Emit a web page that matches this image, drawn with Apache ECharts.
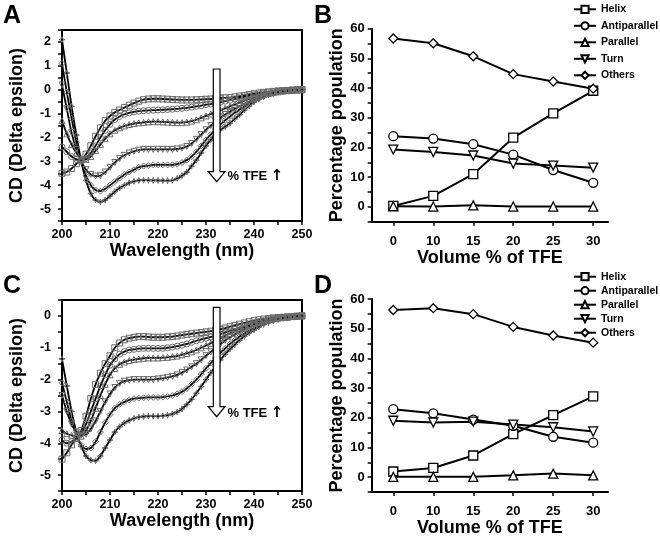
<!DOCTYPE html>
<html>
<head>
<meta charset="utf-8">
<script src="https://cdn.jsdelivr.net/npm/echarts@6/dist/echarts.min.js"></script>
<style>html,body{margin:0;padding:0;background:#fff}#c{width:660px;height:539px}</style>
</head>
<body>
<div id="c"></div>
<script>
// ---------- DATA ----------
const wavelengths = [200,201,202,203,204,205,206,207,208,209,210,211,212,213,214,215,216,217,218,219,220,221,222,223,224,225,226,227,228,229,230,231,232,233,234,235,236,237,238,239,240,241,242,243,244,245,246,247,248,249,250];

// Panel A spectra (0,10,15,20,25,30 % TFE)
const cdA_tfe0  = [-3.5,-3.45,-3.3,-3.1,-2.95,-2.7,-2.35,-1.95,-1.6,-1.3,-1.1,-0.95,-0.85,-0.75,-0.65,-0.56,-0.48,-0.42,-0.39,-0.38,-0.38,-0.39,-0.4,-0.41,-0.42,-0.43,-0.43,-0.43,-0.42,-0.41,-0.4,-0.39,-0.37,-0.35,-0.34,-0.33,-0.3,-0.27,-0.24,-0.2,-0.17,-0.14,-0.11,-0.09,-0.07,-0.05,-0.04,-0.03,-0.02,-0.01,0];
const cdA_tfe10 = [-2.4,-2.6,-2.8,-2.92,-2.97,-2.88,-2.65,-2.35,-2.0,-1.7,-1.45,-1.25,-1.12,-1.03,-0.97,-0.93,-0.9,-0.88,-0.87,-0.86,-0.85,-0.84,-0.83,-0.82,-0.8,-0.78,-0.76,-0.73,-0.7,-0.67,-0.63,-0.6,-0.56,-0.52,-0.48,-0.44,-0.39,-0.34,-0.3,-0.26,-0.22,-0.18,-0.15,-0.12,-0.09,-0.07,-0.05,-0.04,-0.02,-0.01,0];
const cdA_tfe15 = [-1.3,-1.85,-2.3,-2.65,-2.88,-2.92,-2.8,-2.55,-2.3,-2.05,-1.85,-1.7,-1.6,-1.52,-1.46,-1.42,-1.39,-1.37,-1.35,-1.34,-1.34,-1.35,-1.36,-1.37,-1.38,-1.38,-1.36,-1.32,-1.26,-1.18,-1.1,-1.02,-0.94,-0.86,-0.78,-0.7,-0.62,-0.54,-0.46,-0.39,-0.32,-0.26,-0.21,-0.16,-0.12,-0.09,-0.06,-0.04,-0.03,-0.01,0];
const cdA_tfe20 = [0.2,-0.8,-1.8,-2.5,-3.0,-3.35,-3.55,-3.62,-3.6,-3.45,-3.25,-3.05,-2.88,-2.75,-2.65,-2.58,-2.53,-2.5,-2.5,-2.5,-2.5,-2.5,-2.5,-2.5,-2.48,-2.45,-2.38,-2.25,-2.08,-1.88,-1.68,-1.5,-1.33,-1.18,-1.04,-0.92,-0.8,-0.69,-0.59,-0.5,-0.41,-0.33,-0.26,-0.2,-0.15,-0.1,-0.07,-0.04,-0.02,-0.01,0];
const cdA_tfe25 = [1.1,-0.1,-1.2,-2.2,-3.0,-3.6,-4.0,-4.2,-4.25,-4.15,-4.0,-3.85,-3.7,-3.55,-3.45,-3.35,-3.25,-3.2,-3.18,-3.15,-3.15,-3.15,-3.15,-3.15,-3.12,-3.05,-2.95,-2.8,-2.6,-2.35,-2.1,-1.88,-1.65,-1.45,-1.28,-1.12,-0.97,-0.83,-0.7,-0.58,-0.47,-0.37,-0.28,-0.21,-0.15,-0.1,-0.07,-0.04,-0.02,-0.01,0];
const cdA_tfe30 = [2.1,0.7,-0.7,-1.9,-3.0,-3.8,-4.35,-4.62,-4.7,-4.62,-4.45,-4.27,-4.12,-4.0,-3.9,-3.84,-3.8,-3.79,-3.79,-3.8,-3.8,-3.81,-3.81,-3.8,-3.72,-3.6,-3.45,-3.2,-2.95,-2.65,-2.35,-2.1,-1.85,-1.68,-1.55,-1.4,-1.22,-1.05,-0.85,-0.68,-0.52,-0.4,-0.3,-0.22,-0.15,-0.1,-0.07,-0.05,-0.03,-0.01,0];

// Panel C spectra (0,10,15,20,25,30 % TFE)
const cdC_tfe0  = [-4.5,-4.3,-4.05,-3.85,-3.6,-3.15,-2.6,-2.15,-1.8,-1.5,-1.25,-1.0,-0.85,-0.75,-0.7,-0.67,-0.65,-0.65,-0.66,-0.67,-0.67,-0.67,-0.66,-0.65,-0.63,-0.6,-0.58,-0.56,-0.54,-0.52,-0.5,-0.48,-0.45,-0.42,-0.38,-0.34,-0.3,-0.26,-0.22,-0.18,-0.15,-0.12,-0.1,-0.08,-0.06,-0.05,-0.04,-0.03,-0.02,-0.01,0];
const cdC_tfe10 = [-3.9,-4.0,-3.95,-3.85,-3.7,-3.4,-3.0,-2.6,-2.2,-1.85,-1.55,-1.35,-1.2,-1.12,-1.07,-1.05,-1.03,-1.02,-1.02,-1.02,-1.02,-1.02,-1.0,-0.98,-0.95,-0.92,-0.88,-0.83,-0.78,-0.74,-0.7,-0.66,-0.62,-0.57,-0.52,-0.47,-0.42,-0.37,-0.32,-0.27,-0.22,-0.18,-0.15,-0.12,-0.09,-0.07,-0.05,-0.04,-0.02,-0.01,0];
const cdC_tfe15 = [-3.6,-3.7,-3.75,-3.8,-3.78,-3.6,-3.3,-2.9,-2.5,-2.15,-1.85,-1.65,-1.52,-1.45,-1.4,-1.37,-1.35,-1.33,-1.32,-1.32,-1.32,-1.31,-1.3,-1.28,-1.26,-1.22,-1.18,-1.13,-1.07,-1.0,-0.93,-0.86,-0.78,-0.7,-0.62,-0.55,-0.48,-0.41,-0.35,-0.29,-0.24,-0.2,-0.16,-0.12,-0.09,-0.07,-0.05,-0.04,-0.02,-0.01,0];
const cdC_tfe20 = [-2.5,-3.0,-3.4,-3.65,-3.75,-3.72,-3.55,-3.3,-3.0,-2.7,-2.45,-2.25,-2.12,-2.05,-2.02,-2.0,-2.0,-2.0,-2.0,-2.0,-1.98,-1.96,-1.93,-1.9,-1.85,-1.78,-1.7,-1.6,-1.5,-1.38,-1.25,-1.13,-1.0,-0.88,-0.77,-0.67,-0.58,-0.5,-0.42,-0.35,-0.29,-0.23,-0.18,-0.14,-0.1,-0.08,-0.06,-0.04,-0.02,-0.01,0];
const cdC_tfe25 = [-2.1,-2.7,-3.3,-3.75,-4.05,-4.18,-4.15,-3.95,-3.65,-3.35,-3.1,-2.9,-2.78,-2.7,-2.64,-2.6,-2.58,-2.57,-2.56,-2.56,-2.56,-2.55,-2.53,-2.5,-2.45,-2.38,-2.28,-2.15,-2.0,-1.83,-1.65,-1.48,-1.32,-1.16,-1.02,-0.88,-0.76,-0.65,-0.55,-0.46,-0.38,-0.3,-0.24,-0.18,-0.14,-0.1,-0.07,-0.05,-0.03,-0.01,0];
const cdC_tfe30 = [-1.35,-2.2,-3.0,-3.65,-4.1,-4.4,-4.53,-4.55,-4.4,-4.15,-3.9,-3.65,-3.48,-3.36,-3.28,-3.22,-3.18,-3.16,-3.15,-3.15,-3.15,-3.14,-3.12,-3.08,-3.02,-2.92,-2.78,-2.62,-2.43,-2.22,-2.0,-1.78,-1.58,-1.38,-1.2,-1.04,-0.9,-0.76,-0.64,-0.53,-0.44,-0.35,-0.27,-0.21,-0.15,-0.11,-0.07,-0.05,-0.03,-0.01,0];

// Panels B and D
const tfeLabels = ['0','10','15','20','25','30'];
const structNames = ['Helix','Antiparallel','Parallel','Turn','Others'];
const B_helix = [0.3, 3.7, 11.0, 23.3, 31.5, 39.1];
const B_anti  = [23.8, 23.0, 21.1, 17.6, 12.4, 8.1];
const B_para  = [0.2, 0.1, 0.5, 0.1, 0.1, 0.1];
const B_turn  = [19.3, 18.5, 17.3, 14.6, 13.9, 13.2];
const B_other = [56.7, 55.1, 50.7, 44.7, 42.2, 39.8];
const D_helix = [1.9, 3.1, 7.3, 14.5, 20.9, 27.2];
const D_anti  = [22.9, 21.5, 19.4, 17.3, 13.6, 11.6];
const D_para  = [0.1, 0.1, 0.1, 0.6, 1.2, 0.6];
const D_turn  = [19.0, 18.4, 18.7, 17.7, 16.8, 15.4];
const D_other = [56.3, 56.9, 54.9, 50.6, 47.7, 45.3];

// ---------- STYLE ----------
const FONT = '"Liberation Sans", Arial, sans-serif';
const triDown = 'path://M0,0 L10,0 L5,9 Z';
const triUp = 'path://M5,0 L10,9 L0,9 Z';
const starSym = 'path://M5,0 L6.3,3.7 L10,5 L6.3,6.3 L5,10 L3.7,6.3 L0,5 L3.7,3.7 Z';
const cdSymbols = ['rect','circle',triUp,triDown,'diamond',starSym];
const popSymbols = ['rect','circle',triUp,triDown,'diamond'];

const chart = echarts.init(document.getElementById('c'), null, {renderer:'canvas'});

function cdX(idx) {
  return {
    type:'value', gridIndex:idx, min:200, max:250, interval:5,
    axisLine:{show:true, onZero:false, lineStyle:{color:'#000', width:2}},
    axisTick:{show:true, length:4, lineStyle:{color:'#000', width:1.5}},
    axisLabel:{color:'#000', fontFamily:FONT, fontWeight:'bold', fontSize:12.5, margin:7,
      formatter:v => (v % 10 === 0 ? String(v) : '')},
    splitLine:{show:false},
    name:'Wavelength (nm)', nameLocation:'middle', nameGap:21,
    nameTextStyle:{color:'#000', fontFamily:FONT, fontWeight:'bold', fontSize:18}
  };
}
function cdY(idx, min, max) {
  return {
    type:'value', gridIndex:idx, min:min, max:max, interval:0.5,
    axisLine:{show:true, onZero:false, lineStyle:{color:'#000', width:2}},
    axisTick:{show:true, length:4, lineStyle:{color:'#000', width:1.5}},
    axisLabel:{color:'#000', fontFamily:FONT, fontWeight:'bold', fontSize:12.5, margin:11,
      formatter:v => (Math.abs(v - Math.round(v)) < 1e-9 && v > min + 0.01 && v < max - 0.01 ? String(Math.round(v)) : '')},
    splitLine:{show:false},
    name:'CD (Delta epsilon)', nameLocation:'middle', nameGap:36,
    nameTextStyle:{color:'#000', fontFamily:FONT, fontWeight:'bold', fontSize:18}
  };
}
function popX(idx) {
  return {
    type:'value', gridIndex:idx, min:-0.54, max:5.37,
    axisLine:{show:true, onZero:false, lineStyle:{color:'#000', width:2}},
    axisTick:{show:true, length:4, customValues:[0,1,2,3,4,5], lineStyle:{color:'#000', width:1.5}},
    axisLabel:{color:'#000', fontFamily:FONT, fontWeight:'bold', fontSize:13, margin:13,
      customValues:[0,1,2,3,4,5], formatter:v => tfeLabels[Math.round(v)]},
    splitLine:{show:false},
    name:'Volume % of TFE', nameLocation:'middle', nameGap:27,
    nameTextStyle:{color:'#000', fontFamily:FONT, fontWeight:'bold', fontSize:18}
  };
}
function popY(idx) {
  return {
    type:'value', gridIndex:idx, min:-5, max:60, interval:5,
    axisLine:{show:true, onZero:false, lineStyle:{color:'#000', width:2}},
    axisTick:{show:true, length:4, lineStyle:{color:'#000', width:1.5}},
    axisLabel:{color:'#000', fontFamily:FONT, fontWeight:'bold', fontSize:13, margin:7,
      formatter:v => (v >= 0 && v % 10 === 0 ? String(v) : '')},
    splitLine:{show:false},
    name:'Percentage population', nameLocation:'middle', nameGap:26,
    nameTextStyle:{color:'#000', fontFamily:FONT, fontWeight:'bold', fontSize:18}
  };
}

const series = [];
[cdA_tfe0,cdA_tfe10,cdA_tfe15,cdA_tfe20,cdA_tfe25,cdA_tfe30].forEach((arr,i) => {
  series.push({type:'line', xAxisIndex:0, yAxisIndex:0, name:'A'+i, smooth:0.3,
    data: wavelengths.map((w,j) => [w, arr[j]]),
    symbol:cdSymbols[i], symbolSize:6, showSymbol:true,
    lineStyle:{color:'#000', width:1.8},
    itemStyle:{color:'rgba(255,255,255,0)', borderColor:'#6a6a6a', borderWidth:1},
    z: 2});
});
[cdC_tfe0,cdC_tfe10,cdC_tfe15,cdC_tfe20,cdC_tfe25,cdC_tfe30].forEach((arr,i) => {
  series.push({type:'line', xAxisIndex:2, yAxisIndex:2, name:'C'+i, smooth:0.3,
    data: wavelengths.map((w,j) => [w, arr[j]]),
    symbol:cdSymbols[i], symbolSize:6, showSymbol:true,
    lineStyle:{color:'#000', width:1.8},
    itemStyle:{color:'rgba(255,255,255,0)', borderColor:'#6a6a6a', borderWidth:1},
    z: 2});
});
[B_helix,B_anti,B_para,B_turn,B_other].forEach((arr,i) => {
  series.push({type:'line', xAxisIndex:1, yAxisIndex:1, name:structNames[i],
    data: arr.map((v,j) => [j, v]),
    symbol:popSymbols[i], symbolSize:9,
    lineStyle:{color:'#000', width:2},
    itemStyle:{color:'#fff', borderColor:'#000', borderWidth:1.3}});
});
[D_helix,D_anti,D_para,D_turn,D_other].forEach((arr,i) => {
  series.push({type:'line', xAxisIndex:3, yAxisIndex:3, name:structNames[i],
    data: arr.map((v,j) => [j, v]),
    symbol:popSymbols[i], symbolSize:9,
    lineStyle:{color:'#000', width:2},
    itemStyle:{color:'#fff', borderColor:'#000', borderWidth:1.3}});
});

function arrow(top, headY, tip) {
  return {type:'polygon', shape:{points:[[213.3,top],[220,top],[220,headY],[225,headY],[216.7,tip],[208.3,headY],[213.3,headY]]},
    style:{fill:'#fff', stroke:'#000', lineWidth:1.2}, z:100};
}
function label(txt, x, y, size) {
  return {type:'text', left:x, top:y, style:{text:txt, fill:'#000', font:'bold '+size+'px '+FONT}, z:100};
}
function tfeText(y) {
  return {type:'text', left:227.5, top:y, z:100,
    style:{text:'{a|% TFE }{b|\u2191}', fill:'#000',
      rich:{a:{fontFamily:FONT, fontWeight:'bold', fontSize:13, fill:'#000'},
            b:{fontFamily:'"DejaVu Sans", sans-serif', fontWeight:'bold', fontSize:15, fill:'#000'}}}};
}
const legendCommon = {orient:'vertical', itemWidth:22, itemHeight:9, padding:0, itemGap:5.5,
  textStyle:{color:'#000', fontFamily:FONT, fontWeight:'bold', fontSize:10.5},
  data: structNames, selectedMode:false};

chart.setOption({
  animation:false,
  backgroundColor:'#fff',
  grid:[
    {left:62, top:30, width:240, height:191, show:true, borderColor:'#000', borderWidth:2, backgroundColor:'transparent'},
    {left:371.7, top:28.7, width:236.3, height:193},
    {left:62, top:300, width:240, height:191, show:true, borderColor:'#000', borderWidth:2, backgroundColor:'transparent'},
    {left:371.7, top:299, width:236.3, height:193}
  ],
  xAxis:[cdX(0), popX(1), cdX(2), popX(3)],
  yAxis:[cdY(0,-5.5,2.5), popY(1), cdY(2,-5.5,0.5), popY(3)],
  legend:[
    Object.assign({}, legendCommon, {left:573, top:3.8, itemGap:5.5}),
    Object.assign({}, legendCommon, {left:573, top:271.2, itemGap:3})
  ],
  series: series,
  graphic:[
    arrow(69, 171.7, 181.7),
    tfeText(168.5),
    arrow(307.3, 406.7, 416.7),
    tfeText(405.5),
    label('A', 3, 4, 25),
    label('B', 314, 4, 25),
    label('C', 3, 274, 25),
    label('D', 314, 274, 25)
  ]
});
</script>
</body>
</html>
